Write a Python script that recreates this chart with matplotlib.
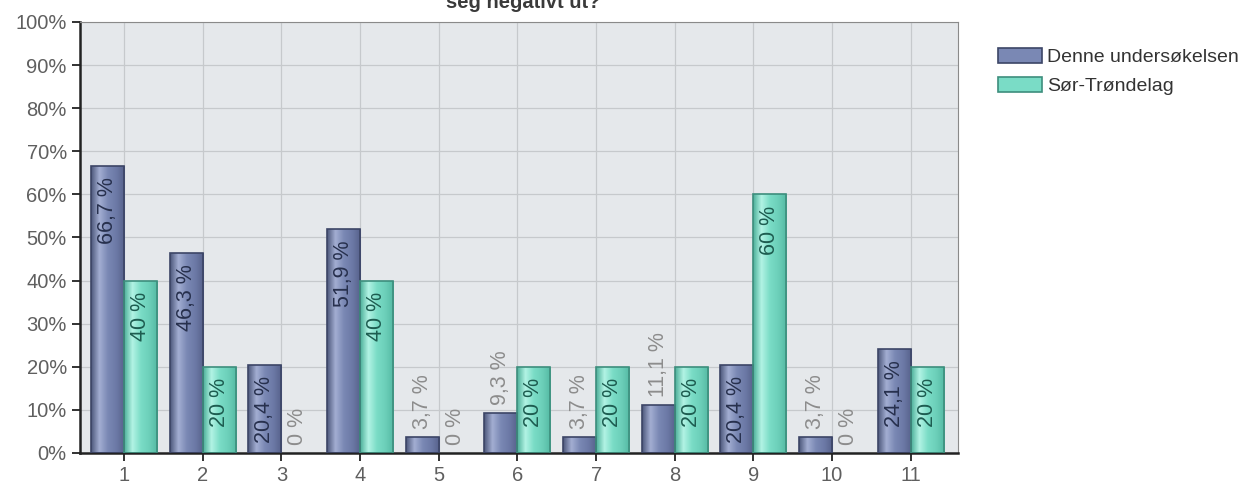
import numpy as np
import matplotlib.pyplot as plt
from matplotlib.patches import Patch
from matplotlib.colors import LinearSegmentedColormap
from matplotlib import rcParams
rcParams['font.family'] = ['Liberation Sans', 'DejaVu Sans']

categories = [str(i) for i in range(1, 12)]
denne = [66.7, 46.3, 20.4, 51.9, 3.7, 9.3, 3.7, 11.1, 20.4, 3.7, 24.1]
sor = [40, 20, 0, 40, 0, 20, 20, 20, 60, 0, 20]
series_names = ["Denne undersøkelsen", "Sør-Trøndelag"]
title = "seg negativt ut?"

blue_grad = LinearSegmentedColormap.from_list(
    "b", ["#4b5679", "#a3aed2", "#7a88b4", "#6c79a6", "#56618a"])
green_grad = LinearSegmentedColormap.from_list(
    "g", ["#4aae98", "#b2f3e4", "#7adcc6", "#6ccfb9", "#54b9a3"])


def fmt(v):
    s = ("%.1f" % v).replace(".", ",")
    if s.endswith(",0"):
        s = s[:-2]
    return s + " %"


fig = plt.figure(figsize=(12.51, 4.88), dpi=100)
ax = fig.add_axes([80 / 1251, 35 / 488, 878 / 1251, 431 / 488])
ax.set_facecolor("#e5e8eb")

x = np.arange(1, 12)
w = 0.42
grad = np.linspace(0, 1, 256).reshape(1, -1)

specs = [(denne, -w / 2, blue_grad, "#3c4566", "#27304d"),
         (sor, w / 2, green_grad, "#3d8e7d", "#1d5c50")]
handles = []
for vals, off, cmap, edge, tcol in specs:
    bars = ax.bar(x + off, vals, w, color="none", edgecolor=edge, linewidth=1.2, zorder=3)
    for b, v in zip(bars, vals):
        if v <= 0:
            b.set_linewidth(0)
            continue
        x0, y0 = b.get_x(), b.get_y()
        im = ax.imshow(grad, cmap=cmap, aspect="auto", zorder=2,
                       extent=[x0, x0 + b.get_width(), y0, y0 + b.get_height()])
        im.set_clip_path(b)
        if v >= 15:
            ax.annotate(fmt(v), (x0 + b.get_width() / 2, v), xytext=(0, -8),
                        textcoords="offset points", rotation=90, ha="center",
                        va="top", fontsize=15.5, color=tcol, zorder=4)
    for b, v in zip(bars, vals):
        if v < 15:
            ax.annotate(fmt(v), (b.get_x() + b.get_width() / 2, v), xytext=(0, 6),
                        textcoords="offset points", rotation=90, ha="center",
                        va="bottom", fontsize=15.5, color="#8c8c8c", zorder=4)
    handles.append(Patch(facecolor=cmap(0.5), edgecolor=edge, linewidth=1.2))

ax.set_xlim(0.44, 11.6)
ax.set_ylim(0, 100)
ax.set_yticks(range(0, 101, 10))
ax.set_yticklabels([f"{t}%" for t in range(0, 101, 10)])
ax.set_xticks(x)
ax.set_xticklabels(categories)
ax.grid(True, color="#c6c9cc", linewidth=0.9, zorder=0)
ax.set_axisbelow(True)
ax.tick_params(labelsize=14.5, labelcolor="#5f5f5f", color="#222222", length=6, width=1.3)
ax.spines["left"].set_color("#222222")
ax.spines["left"].set_linewidth(1.8)
ax.spines["bottom"].set_color("#222222")
ax.spines["bottom"].set_linewidth(1.8)
ax.spines["top"].set_color("#8a8a8a")
ax.spines["right"].set_color("#8a8a8a")

fig.text(0.418, 1 - 8 / 488, title, ha="center", va="baseline", fontsize=14.5,
         fontweight="bold", color="#3a3a3a")

fig.legend(handles, series_names, loc="upper left", bbox_to_anchor=(980 / 1251, 1 - 30 / 488),
           frameon=False, fontsize=14, handlelength=2.3, handleheight=0.85,
           handletextpad=0.25, labelspacing=0.55, labelcolor="#333333")

plt.savefig("out.png", dpi=100)
